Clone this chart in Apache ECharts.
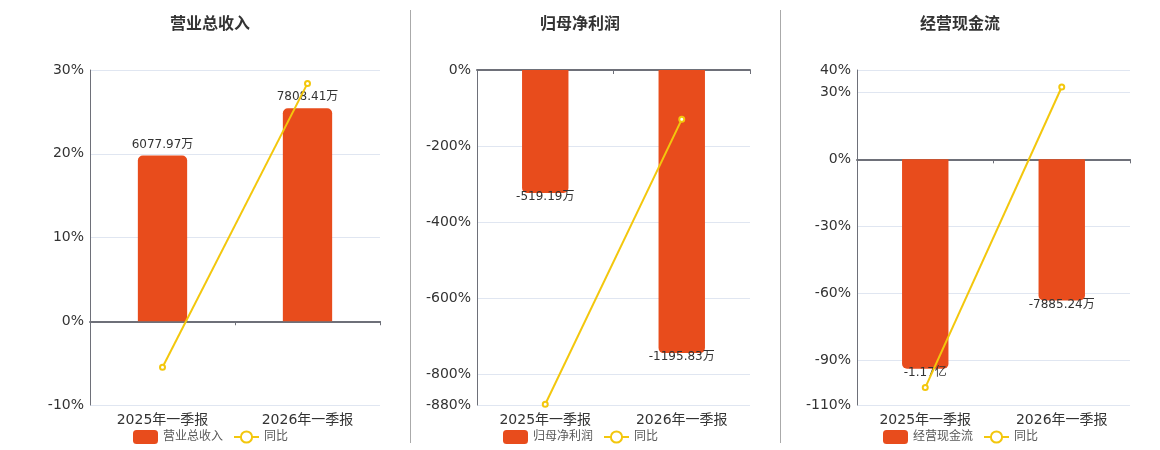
<!DOCTYPE html>
<html>
<head>
<meta charset="utf-8">
<script src="https://cdn.jsdelivr.net/npm/echarts@6/dist/echarts.min.js"></script>
<style>
html,body{margin:0;padding:0;background:#fff;}
#main{width:1160px;height:450px;}
</style>
</head>
<body>
<div id="main"></div>
<script>
// ---- data ----
const categories = ['2025年一季报', '2026年一季报'];
const panelTitles = ['营业总收入', '归母净利润', '经营现金流'];
const revenueValues = [6077.97, 7808.41];      // 万
const revenueYoY = [-5.5, 28.4];               // %
const netProfitValues = [-519.19, -1195.83];   // 万
const netProfitYoY = [-878, -129.7];           // %
const cashFlowValues = [-11700, -7885.24];     // 万
const cashFlowYoY = [-102.2, 32.4];            // %
const pctAxisMin = [-10, -880, -110];
const pctAxisMax = [30, 0, 40];
const barAxisMin = [-3070, -1415, -13730];
const barAxisMax = [9211, 0, 4993];

const barValues = [revenueValues, netProfitValues, cashFlowValues];
const yoyValues = [revenueYoY, netProfitYoY, cashFlowYoY];

// ---- style ----
const FONT = 'DejaVu Sans, "Noto Sans CJK SC", sans-serif';
const BAR_COLOR = '#E84C1C';
const LINE_COLOR = '#F3C70D';
const gridLefts = [90, 477, 857];
const gridWidths = [290, 273, 273];
const titleLefts = [205, 575, 955];
const legendLefts = [128, 498, 878];

function fmtAmount(v) {
  const a = Math.abs(v);
  if (a >= 10000) return (v / 10000).toFixed(2) + '亿';
  return v.toFixed(2) + '万';
}

const option = {
  animation: false,
  textStyle: { fontFamily: FONT },
  title: [], legend: [], grid: [], xAxis: [], yAxis: [], series: [],
  graphic: [
    { type: 'line', shape: { x1: 410.5, y1: 10, x2: 410.5, y2: 443 }, style: { stroke: '#aaa', lineWidth: 1 } },
    { type: 'line', shape: { x1: 780.5, y1: 10, x2: 780.5, y2: 443 }, style: { stroke: '#aaa', lineWidth: 1 } }
  ]
};

for (let i = 0; i < 3; i++) {
  option.title.push({
    text: panelTitles[i], left: titleLefts[i], top: 12, textAlign: 'center',
    textStyle: { fontSize: 16, fontWeight: 'bold', color: '#333', fontFamily: FONT }
  });
  option.legend.push({
    left: legendLefts[i], top: 425, itemWidth: 25, itemHeight: 14, itemGap: 10,
    data: [panelTitles[i], '同比'],
    textStyle: { fontSize: 12, color: '#595959', fontFamily: FONT }
  });
  option.grid.push({ left: gridLefts[i], width: gridWidths[i], top: 70, bottom: 45 });
  // axis on zero (line + ticks)
  option.xAxis.push({
    type: 'category', gridIndex: i, data: categories,
    axisLine: { show: true, onZero: true, lineStyle: { color: '#6E7079', width: 2 } },
    axisTick: { show: true, length: 4, lineStyle: { color: '#6E7079', width: 1 } },
    axisLabel: { show: false }, splitLine: { show: false }
  });
  // axis at bottom (labels only)
  option.xAxis.push({
    type: 'category', gridIndex: i, data: categories, position: 'bottom',
    axisLine: { show: false, onZero: false }, axisTick: { show: false },
    axisLabel: { show: true, fontSize: 14, color: '#333', margin: 8, fontFamily: FONT }
  });
  option.yAxis.push({
    type: 'value', gridIndex: i, min: pctAxisMin[i], max: pctAxisMax[i],
    axisLine: { show: true, lineStyle: { color: '#6E7079', width: 1 } },
    axisTick: { show: false },
    axisLabel: { fontSize: 14, color: '#333', margin: 6, formatter: '{value}%', fontFamily: FONT },
    splitLine: { show: true, lineStyle: { color: '#E0E6F1' } }
  });
  option.yAxis.push({
    type: 'value', gridIndex: i, min: barAxisMin[i], max: barAxisMax[i], show: false,
    splitLine: { show: false }
  });
  option.series.push({
    type: 'bar', name: panelTitles[i], xAxisIndex: 2 * i, yAxisIndex: 2 * i + 1, barWidth: '34%',
    data: barValues[i].map(v => ({
      value: v,
      itemStyle: { borderRadius: v >= 0 ? [5, 5, 0, 0] : [0, 0, 5, 5] },
      label: v >= 0 ? { position: 'top', distance: 5 } : { position: 'bottom', distance: -2 }
    })),
    itemStyle: { color: BAR_COLOR },
    label: { show: true, fontSize: 12, color: '#333', formatter: p => fmtAmount(p.value), fontFamily: FONT }
  });
  option.series.push({
    type: 'line', name: '同比', xAxisIndex: 2 * i, yAxisIndex: 2 * i,
    data: yoyValues[i], symbol: 'emptyCircle', symbolSize: 5,
    lineStyle: { color: LINE_COLOR, width: 2 },
    itemStyle: { color: LINE_COLOR, borderWidth: 2 },
    z: 5
  });
}

const chart = echarts.init(document.getElementById('main'));
chart.setOption(option);
</script>
</body>
</html>
